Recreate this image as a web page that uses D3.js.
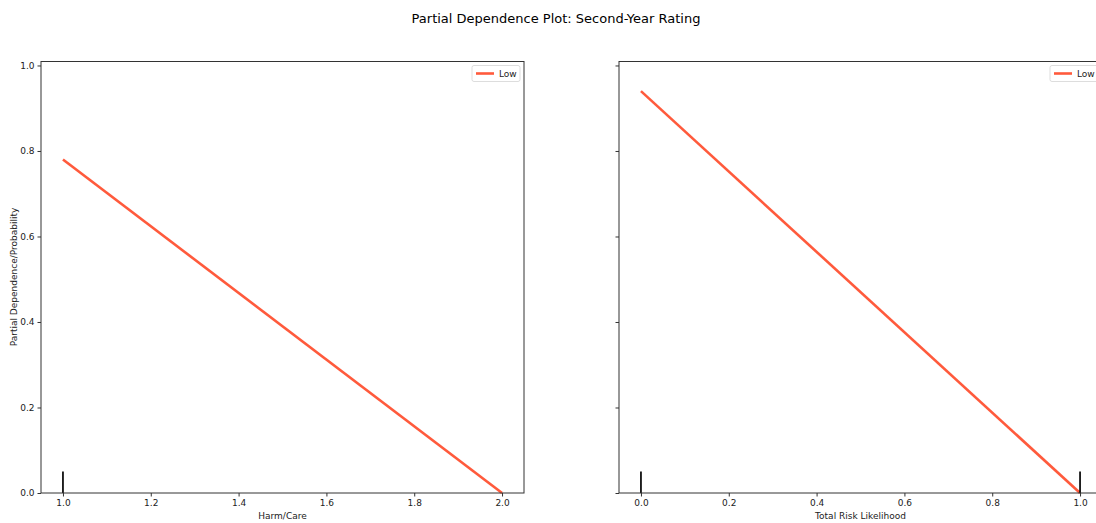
<!DOCTYPE html>
<html><head><meta charset="utf-8">
<script src="https://cdn.jsdelivr.net/npm/d3@7"></script>
<style>body{margin:0;background:#fff;} svg{display:block;font-family:"DejaVu Sans",sans-serif;}</style>
</head><body>
<script>
const title = "Partial Dependence Plot: Second-Year Rating";
const yLabel = "Partial Dependence/Probability";
const yTicks = [0.0, 0.2, 0.4, 0.6, 0.8, 1.0];
const seriesName = "Low";
// panel 1
const p1Label = "Harm/Care";
const p1X = [1.0, 2.0];
const p1Y = [0.78, 0.0];
const p1Rug = [1.0];
const p1Ticks = [1.0, 1.2, 1.4, 1.6, 1.8, 2.0];
// panel 2
const p2Label = "Total Risk Likelihood";
const p2X = [0.0, 1.0];
const p2Y = [0.94, 0.0];
const p2Rug = [0.0, 1.0];
const p2Ticks = [0.0, 0.2, 0.4, 0.6, 0.8, 1.0];

const W = 1096, H = 523;
const svg = d3.select("body").append("svg").attr("width", W).attr("height", H);
svg.append("text").attr("x", 556).attr("y", 23).attr("text-anchor", "middle")
  .attr("font-size", 13).attr("fill", "#000").text(title);

const plotTop = 61.5, plotBottom = 493;
const y = d3.scaleLinear().domain([0, 1.0093]).range([plotBottom, plotTop]);
const color = "#ff5a3c";

function panel(left, right, xdom, xs, ys, rug, ticks, label, showY) {
  const x = d3.scaleLinear().domain(xdom).range([left, right]);
  const g = svg.append("g");
  g.append("path").datum(xs.map((v, i) => [v, ys[i]]))
    .attr("d", d3.line().x(d => x(d[0])).y(d => y(d[1])))
    .attr("fill", "none").attr("stroke", color).attr("stroke-width", 2.6);
  g.selectAll(".rug").data(rug).enter().append("line")
    .attr("x1", d => x(d)).attr("x2", d => x(d))
    .attr("y1", y(0)).attr("y2", y(0.05))
    .attr("stroke", "#111").attr("stroke-width", 1.8);
  g.append("rect").attr("x", left).attr("y", plotTop).attr("width", right - left).attr("height", plotBottom - plotTop)
    .attr("fill", "none").attr("stroke", "#333").attr("stroke-width", 1);
  const xa = g.append("g").attr("transform", `translate(0,${plotBottom})`)
    .call(d3.axisBottom(x).tickValues(ticks).tickFormat(d3.format(".1f")).tickSize(3.5).tickPadding(3));
  xa.select(".domain").remove();
  xa.selectAll("line").attr("stroke", "#333");
  xa.selectAll("text").attr("font-size", 9).attr("fill", "#222").attr("font-family", "DejaVu Sans");
  g.append("text").attr("x", (left + right) / 2).attr("y", 519).attr("text-anchor", "middle")
    .attr("font-size", 9).attr("fill", "#222").text(label);
  const ya = g.append("g").attr("transform", `translate(${left},0)`)
    .call(d3.axisLeft(y).tickValues(yTicks).tickFormat(showY ? d3.format(".1f") : () => "").tickSize(3.5).tickPadding(3));
  ya.select(".domain").remove();
  ya.selectAll("line").attr("stroke", "#333");
  ya.selectAll("text").attr("font-size", 9).attr("fill", "#222").attr("font-family", "DejaVu Sans");
  const lx = right - 52, ly = plotTop + 4;
  g.append("rect").attr("x", lx).attr("y", ly).attr("width", 48).attr("height", 16).attr("rx", 2)
    .attr("fill", "#fff").attr("stroke", "#ddd").attr("stroke-width", 1);
  g.append("line").attr("x1", lx + 4).attr("x2", lx + 22).attr("y1", ly + 8).attr("y2", ly + 8)
    .attr("stroke", color).attr("stroke-width", 2.6);
  g.append("text").attr("x", lx + 27).attr("y", ly + 11.5).attr("font-size", 9).attr("fill", "#222").text(seriesName);
}

panel(41, 524, [0.95, 2.05], p1X, p1Y, p1Rug, p1Ticks, p1Label, true);
panel(619, 1102, [-0.05, 1.05], p2X, p2Y, p2Rug, p2Ticks, p2Label, false);

svg.append("text").attr("transform", "translate(17,277) rotate(-90)").attr("text-anchor", "middle")
  .attr("font-size", 9).attr("fill", "#222").text(yLabel);
</script>
</body></html>
